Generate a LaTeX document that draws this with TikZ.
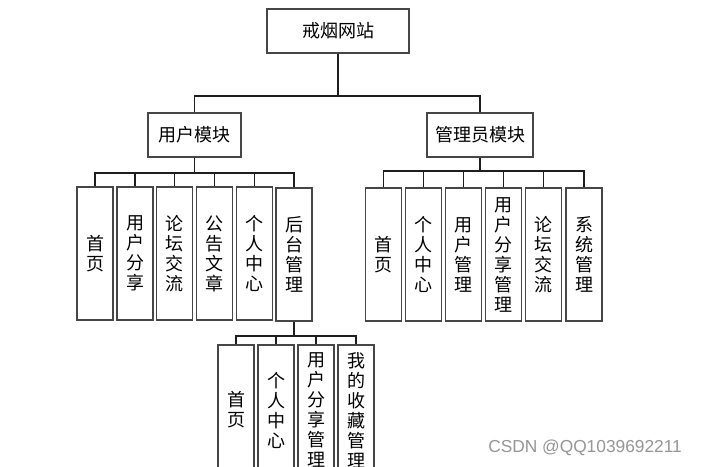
\documentclass[tikz,border=0pt]{standalone}
\usepackage{fontspec}
\newfontfamily\cjk{Noto Sans CJK SC}
\newfontfamily\wmfont{Liberation Sans}
\definecolor{boxline}{RGB}{70,70,70}
\definecolor{conn}{RGB}{30,30,30}
\definecolor{wm}{RGB}{150,150,150}
\begin{document}
\begin{tikzpicture}[x=0.75pt,y=-0.75pt,
  box/.style={draw=boxline,line width=1.1pt,fill=white,inner sep=0pt,
    font=\cjk\fontsize{13.5}{15}\selectfont,align=center},
  hbox/.style={box,minimum height=33pt},
  vbox/.style={box,minimum width=27pt,minimum height=100pt},
  wire/.style={draw=conn,line width=1.1pt}]
\useasboundingbox (0,0) rectangle (701,467);
\clip (0,0) rectangle (701,467);
\fill[white] (0,0) rectangle (701,467);
% top level
\node[hbox,minimum width=106.5pt] (root) at (338,31) {戒烟网站};
\node[hbox,minimum width=70pt] (user) at (194.5,135) {用户模块};
\node[hbox,minimum width=79.5pt] (admin) at (480,135) {管理员模块};
\coordinate (rbar) at (0,96);
\coordinate (ubar) at (0,173);
\coordinate (abar) at (0,171);
\coordinate (bbar) at (0,336);
% user children
\node[vbox] (u1) at (95,253.5) {首\\页};
\node[vbox] (u2) at (135,253.5) {用\\户\\分\\享};
\node[vbox] (u3) at (174.5,253.5) {论\\坛\\交\\流};
\node[vbox] (u4) at (214.5,253.5) {公\\告\\文\\章};
\node[vbox] (u5) at (254.5,253.5) {个\\人\\中\\心};
\node[vbox] (u6) at (294,254.5) {后\\台\\管\\理};
% admin children
\node[vbox] (a1) at (383.5,254.5) {首\\页};
\node[vbox] (a2) at (423.5,254.5) {个\\人\\中\\心};
\node[vbox] (a3) at (463.5,254.5) {用\\户\\管\\理};
\node[vbox] (a4) at (503.5,254.5) {用\\户\\分\\享\\管\\理};
\node[vbox] (a5) at (543.5,254.5) {论\\坛\\交\\流};
\node[vbox] (a6) at (584,254.5) {系\\统\\管\\理};
% backend children
\node[vbox,minimum height=97.5pt] (b1) at (236,410) {首\\页};
\node[vbox,minimum height=97.5pt] (b2) at (276,410) {个\\人\\中\\心};
\node[vbox,minimum height=97.5pt] (b3) at (316,410) {用\\户\\分\\享\\管\\理};
\node[vbox,minimum height=97.5pt] (b4) at (356,410) {我\\的\\收\\藏\\管\\理};
% connectors
\draw[wire] (root.south) -- (root.south |- rbar);
\draw[wire] (user.north) |- (root.south |- rbar);
\draw[wire] (admin.north) |- (root.south |- rbar);
\draw[wire] (user.south) -- (user.south |- ubar);
\foreach \c in {u1,u2,u3,u4,u5,u6}
  \draw[wire] (\c.north) |- (user.south |- ubar);
\draw[wire] (admin.south) -- (admin.south |- abar);
\foreach \c in {a1,a2,a3,a4,a5,a6}
  \draw[wire] (\c.north) |- (admin.south |- abar);
\draw[wire] (u6.south) -- (u6.south |- bbar);
\foreach \c in {b1,b2,b3,b4}
  \draw[wire] (\c.north) |- (u6.south |- bbar);
% watermark
\node[text=wm,font=\wmfont\fontsize{13}{15}\selectfont,anchor=west,inner sep=0pt] (wmk) at (488,448) {CSDN @QQ1039692211};
\end{tikzpicture}
\end{document}
